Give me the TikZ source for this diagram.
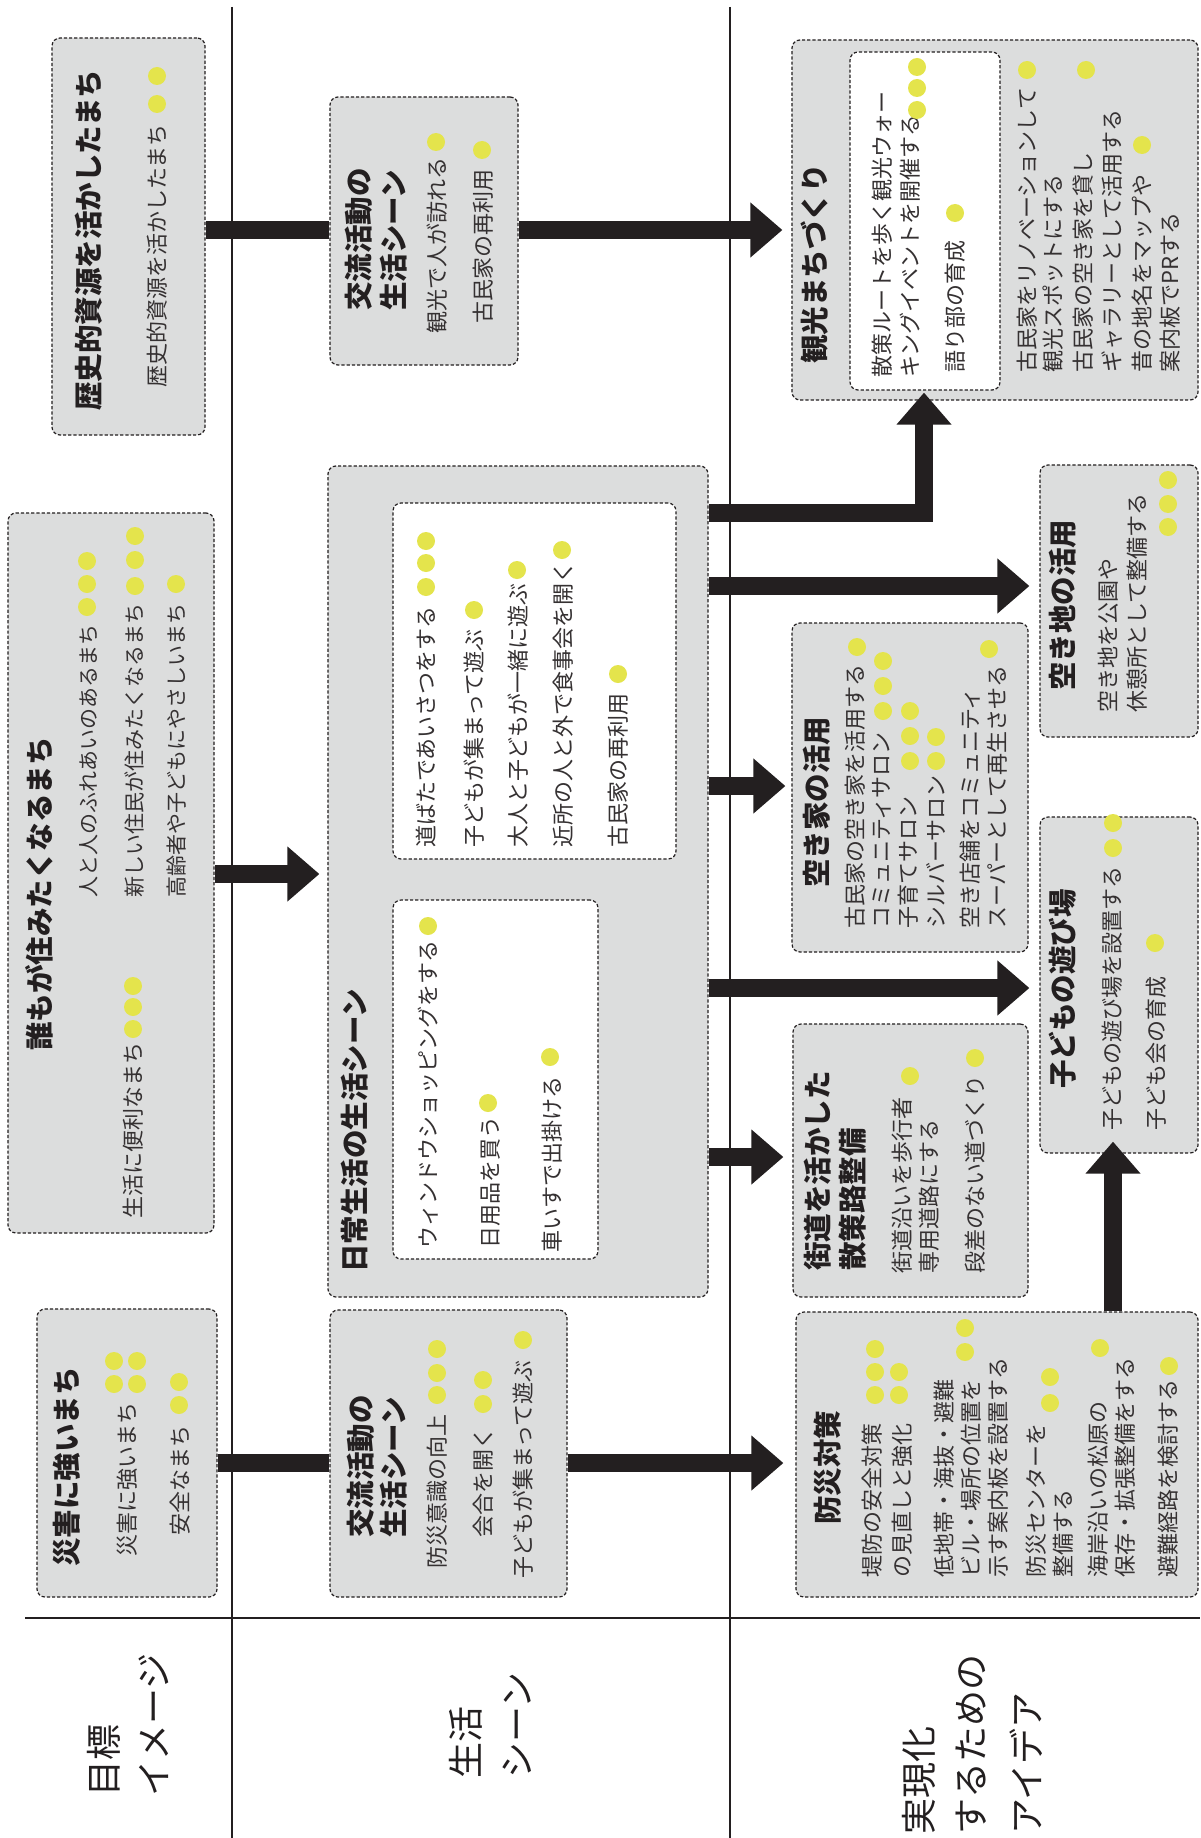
\documentclass[tikz,border=0pt]{standalone}
\usepackage{fontspec}
\newfontfamily\jp{Noto Sans CJK JP}
\usetikzlibrary{arrows.meta}
\definecolor{ink}{HTML}{231F20}
\definecolor{boxgray}{HTML}{DCDDDD}
\definecolor{dotyel}{HTML}{E4E44C}
\tikzset{
 gbox/.style={rectangle, draw=ink, line width=1.2pt, dash pattern=on 3.2pt off 2pt, rounded corners=8pt, fill=boxgray, inner sep=0pt},
 wbox/.style={gbox, fill=white},
 ttl/.style={font=\jp\bfseries\fontsize{28.5}{34}\selectfont, text=ink, rotate=90, anchor=west, inner sep=0pt, text height=25.1pt, text depth=3.4pt},
 itm/.style={font=\jp\fontsize{22}{26}\selectfont, text=ink!92, rotate=90, anchor=west, inner sep=0pt, text height=19.4pt, text depth=2.6pt},
 itms/.style={itm, font=\jp\fontsize{21}{26}\selectfont},
 lbl/.style={font=\jp\fontsize{36}{42}\selectfont, text=ink, rotate=90, anchor=west, inner sep=0pt, text height=31.7pt, text depth=4.3pt},
 bar/.style={draw=ink, line width=18pt},
 arr/.style={bar, -{Triangle[width=53pt,length=32pt]}},
 rule/.style={draw=ink, line width=1.6pt},
}
\newcommand\yd[2]{\fill[dotyel] (#1,#2) circle (9pt);}
\begin{document}
\begin{tikzpicture}[x=1pt,y=-1pt]
\useasboundingbox (0,0) rectangle (1200,1838);
\fill[white] (0,0) rectangle (1200,1838);
% rules
\draw[rule] (232,7) -- (232,1838);
\draw[rule] (730,7) -- (730,1838);
\draw[rule] (25,1618) -- (1200,1618);
% boxes
\node[gbox, minimum width=153pt, minimum height=397pt] (A) at (128.5,236.5) {};
\node[gbox, minimum width=206pt, minimum height=720pt] (B) at (111,873) {};
\node[gbox, minimum width=180pt, minimum height=288pt] (C) at (127,1453) {};
\node[gbox, minimum width=188pt, minimum height=268pt] (D) at (424,231) {};
\node[gbox, minimum width=380pt, minimum height=831pt] (E) at (518,881.5) {};
\node[wbox, minimum width=283pt, minimum height=356pt] (E1) at (534.5,681) {};
\node[wbox, minimum width=205pt, minimum height=359pt] (E2) at (495.5,1079.5) {};
\node[gbox, minimum width=237pt, minimum height=287pt] (F) at (448.5,1453.5) {};
\node[gbox, minimum width=406pt, minimum height=360pt] (G) at (995,220) {};
\node[wbox, minimum width=150pt, minimum height=338pt] (G1) at (925,221) {};
\node[gbox, minimum width=158pt, minimum height=272pt] (H) at (1119,601) {};
\node[gbox, minimum width=236pt, minimum height=329pt] (I) at (910,787.5) {};
\node[gbox, minimum width=235pt, minimum height=273pt] (J) at (910.5,1160.5) {};
\node[gbox, minimum width=158pt, minimum height=336pt] (K) at (1119,985) {};
\node[gbox, minimum width=402pt, minimum height=285pt] (L) at (997,1454.5) {};
% row labels
\node[lbl] (l1a) at (104,1797) {目標};
\node[lbl] (l1b) at (154,1797) {イメージ};
\node[lbl] (l2a) at (466,1779) {生活};
\node[lbl] (l2b) at (517,1779) {シーン};
\node[lbl] (l3a) at (919,1835) {実現化};
\node[lbl] (l3b) at (971,1835) {するための};
\node[lbl] (l3c) at (1027,1835) {アイデア};
% box A
\node[ttl] (a0) at (89,411) {歴史的資源を活かしたまち};
\node[itm] (a1) at (157,388) {歴史的資源を活かしたまち};
% box B
\node[ttl] (b0) at (40,1051) {誰もが住みたくなるまち};
\node[itms] (b1) at (88,898) {人と人のふれあいのあるまち};
\node[itms] (b2) at (134,898) {新しい住民が住みたくなるまち};
\node[itms] (b3) at (176,898) {高齢者や子どもにやさしいまち};
\node[itm] (b4) at (133,1219) {生活に便利なまち};
% box C
\node[ttl] (c0) at (67,1567) {災害に強いまち};
\node[itm] (c1) at (127,1557) {災害に強いまち};
\node[itm] (c2) at (180,1536) {安全なまち};
% box D
\node[ttl] (d0) at (359,311) {交流活動の};
\node[ttl] (d0b) at (394,311) {生活シーン};
\node[itm] (d1) at (437,334) {観光で人が訪れる};
\node[itm] (d2) at (483,324) {古民家の再利用};
% box E
\node[ttl] (e0) at (355,1273) {日常生活の生活シーン};
\node[itm] (e1) at (426,848) {道ばたであいさつをする};
\node[itm] (e2) at (474,848) {子どもが集まって遊ぶ};
\node[itm] (e3) at (518,848) {大人と子どもが一緒に遊ぶ};
\node[itm] (e4) at (563,848) {近所の人と外で食事会を開く};
\node[itm] (e5) at (618,848) {古民家の再利用};
\node[itm] (e6) at (428,1249) {ウィンドウショッピングをする};
\node[itm] (e7) at (490,1249) {日用品を買う};
\node[itm] (e8) at (552,1253) {車いすで出掛ける};
% box F
\node[ttl] (f0) at (361,1538) {交流活動の};
\node[ttl] (f0b) at (394,1538) {生活シーン};
\node[itm] (f1) at (437,1569) {防災意識の向上};
\node[itm] (f2) at (483,1538) {会合を開く};
\node[itm] (f3) at (523,1579) {子どもが集まって遊ぶ};
% box G
\node[ttl] (g0) at (815,364) {観光まちづくり};
\node[itm] (g1) at (882,378) {散策ルートを歩く観光ウォー};
\node[itm] (g1b) at (910,378) {キングイベントを開催する};
\node[itm] (g2) at (955,373) {語り部の育成};
\node[itm] (g3) at (1027,373) {古民家をリノベーションして};
\node[itm] (g3b) at (1053,373) {観光スポットにする};
\node[itm] (g4) at (1083,373) {古民家の空き家を貸し};
\node[itm] (g4b) at (1112,373) {ギャラリーとして活用する};
\node[itm] (g5) at (1142,373) {昔の地名をマップや};
\node[itm] (g5b) at (1170,373) {案内板でPRする};
% box H
\node[ttl] (h0) at (1063,691) {空き地の活用};
\node[itm] (h1) at (1108,713) {空き地を公園や};
\node[itm] (h1b) at (1137,713) {休憩所として整備する};
% box I
\node[ttl] (i0) at (817,888) {空き家の活用};
\node[itm] (i1) at (855,929) {古民家の空き家を活用する};
\node[itm] (i2) at (881,929) {コミュニティサロン};
\node[itm] (i3) at (908,929) {子育てサロン};
\node[itm] (i4) at (936,929) {シルバーサロン};
\node[itm] (i5) at (970,929) {空き店舗をコミュニティ};
\node[itm] (i5b) at (997,929) {スーパーとして再生させる};
% box J
\node[ttl] (j0) at (818,1271) {街道を活かした};
\node[ttl] (j0b) at (853,1271) {散策路整備};
\node[itm] (j1) at (902,1274) {街道沿いを歩行者};
\node[itm] (j1b) at (929,1274) {専用道路にする};
\node[itm] (j2) at (975,1274) {段差のない道づくり};
% box K
\node[ttl] (k0) at (1063,1089) {子どもの遊び場};
\node[itm] (k1) at (1112,1131) {子どもの遊び場を設置する};
\node[itm] (k2) at (1156,1131) {子ども会の育成};
% box L
\node[ttl] (m0) at (828,1525) {防災対策};
\node[itm] (m1) at (872,1578) {堤防の安全対策};
\node[itm] (m1b) at (902,1578) {の見直しと強化};
\node[itm] (m2) at (944,1578) {低地帯・海抜・避難};
\node[itm] (m2b) at (971,1578) {ビル・場所の位置を};
\node[itm] (m2c) at (998,1578) {示す案内板を設置する};
\node[itm] (m3) at (1036,1578) {防災センターを};
\node[itm] (m3b) at (1063,1578) {整備する};
\node[itm] (m4) at (1098,1578) {海岸沿いの松原の};
\node[itm] (m4b) at (1125,1578) {保存・拡張整備をする};
\node[itm] (m5) at (1168,1578) {避難経路を検討する};
% dots
\yd{157}{76}\yd{157}{104}
\yd{87}{561}\yd{87}{584}\yd{87}{607}
\yd{135}{536}\yd{135}{560}\yd{135}{586}
\yd{176}{584}
\yd{133}{986}\yd{133}{1007}\yd{133}{1029}
\yd{114}{1361}\yd{137}{1361}\yd{114}{1384}\yd{137}{1384}
\yd{179}{1382}\yd{179}{1405}
\yd{436}{142}\yd{482}{150}
\yd{426}{541}\yd{426}{563}\yd{426}{587}
\yd{474}{610}\yd{517}{570}\yd{562}{550}\yd{618}{674}
\yd{428}{926}\yd{488}{1103}\yd{550}{1057}
\yd{437}{1349}\yd{437}{1373}\yd{437}{1395}
\yd{483}{1380}\yd{483}{1404}
\yd{523}{1340}
\yd{917}{67}\yd{917}{88}\yd{917}{110}
\yd{955}{213}\yd{1027}{70}\yd{1086}{70}\yd{1142}{145}
\yd{1168}{480}\yd{1168}{504}\yd{1168}{527}
\yd{857}{647}
\yd{883}{661}\yd{883}{686}\yd{883}{711}
\yd{910}{711}\yd{910}{736}\yd{910}{761}
\yd{936}{737}\yd{936}{761}
\yd{989}{649}
\yd{910}{1076}\yd{975}{1058}
\yd{1113}{823}\yd{1113}{848}\yd{1155}{943}
\yd{875}{1349}\yd{875}{1372}\yd{899}{1372}\yd{875}{1395}\yd{899}{1395}
\yd{965}{1328}\yd{965}{1352}
\yd{1050}{1377}\yd{1050}{1403}
\yd{1100}{1348}\yd{1169}{1366}
% arrow levels
\coordinate (y1) at (0,230);
\coordinate (y2) at (0,874);
\coordinate (y3) at (0,1463);
\coordinate (y4) at (0,513);
\coordinate (y5) at (0,586);
\coordinate (y6) at (0,786);
\coordinate (y7) at (0,988);
\coordinate (y8) at (0,1157);
\coordinate (x1) at (924,0);
\coordinate (x2) at (1113,0);
% connectors
\draw[bar] (A.east |- y1) -- (D.west |- y1);
\draw[arr, shorten >=9pt] (D.east |- y1) -- (G.west |- y1);
\draw[arr, shorten >=8pt] (B.east |- y2) -- (E.west |- y2);
\draw[bar] (C.east |- y3) -- (F.west |- y3);
\draw[arr, shorten >=12pt] (F.east |- y3) -- (L.west |- y3);
\draw[arr, shorten >=-8pt] (E.east |- y4) -| (G.south -| x1);
\draw[arr, shorten >=10pt] (E.east |- y5) -- (H.west |- y5);
\draw[arr, shorten >=6pt] (E.east |- y6) -- (I.west |- y6);
\draw[arr, shorten >=10pt] (E.east |- y7) -- (K.west |- y7);
\draw[arr, shorten >=9pt] (E.east |- y8) -- (J.west |- y8);
\draw[arr, shorten >=-12pt] (L.north -| x2) -- (K.south -| x2);
\end{tikzpicture}
\end{document}
